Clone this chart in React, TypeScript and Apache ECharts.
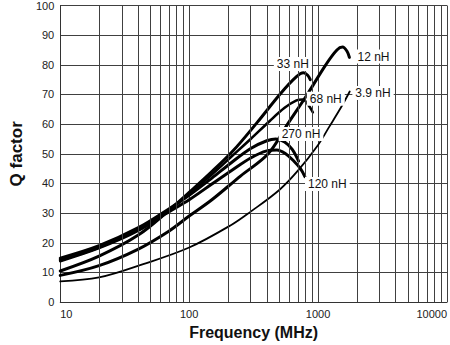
import { useEffect, useRef } from "react";
import * as echarts from "echarts";

type Pt = [number, number];

// Q factor vs frequency (MHz)
const q270: Pt[] = [[10, 14.8], [20, 19], [40, 25], [70, 31.5], [100, 36], [150, 41.8], [212, 47], [300, 51.8], [400, 54.4], [470, 55], [550, 54], [630, 51.5], [706, 47.5]];
const q120: Pt[] = [[10, 14.2], [20, 18.5], [40, 24.3], [70, 30.5], [100, 34.5], [150, 39.8], [212, 44.3], [300, 48.6], [400, 51], [480, 51.3], [560, 50], [650, 47.5], [730, 45], [790, 42.3]];
const q68: Pt[] = [[10, 13.8], [20, 18.2], [40, 24], [70, 31], [100, 36.5], [150, 43], [212, 49], [300, 55], [420, 61], [550, 65.5], [680, 68], [760, 68.3], [840, 66.5], [910, 64]];
const q33: Pt[] = [[10, 10.5], [20, 15.5], [40, 22.5], [70, 31], [100, 37], [150, 44], [219, 51], [336, 60.5], [516, 70.5], [680, 76], [770, 77.3], [830, 76.5], [870, 75]];
const q12: Pt[] = [[10, 9], [20, 12.3], [40, 17.8], [70, 24], [100, 29], [150, 34.5], [250, 42.5], [410, 50], [580, 60], [824, 70], [1147, 80], [1400, 85], [1550, 86], [1680, 84.5], [1750, 82.5]];
const q39: Pt[] = [[10, 7], [20, 8.3], [44, 12.8], [100, 18.4], [212, 26], [300, 30.5], [500, 37.8], [700, 44.4], [1000, 53], [1216, 59], [1500, 65.5], [1760, 71]];

const minorFreqs = [20, 30, 40, 50, 60, 70, 80, 90, 200, 300, 400, 500, 600, 700, 800, 900, 2000, 3000, 4000, 5000, 6000, 7000, 8000, 9000];

const curveNames = ["270 nH", "120 nH", "68 nH", "33 nH", "12 nH", "3.9 nH"];
const curveData = [q270, q120, q68, q33, q12, q39];
const curveWidths = [3, 3, 2.6, 3, 3, 1.8];

// label anchors [freq, Q]
const labelNames = ["12 nH", "33 nH", "68 nH", "3.9 nH", "270 nH", "120 nH"];
const labelFreq = [2692, 637, 1147, 2667, 737, 1180];
const labelQ = [82.8, 80.3, 68.6, 70.5, 56.7, 39.8];

const FONT = "'Liberation Sans', Arial, Helvetica, sans-serif";
const GRID = "#404040";

export default function App() {
  const ref = useRef<HTMLDivElement>(null);
  useEffect(() => {
    if (!ref.current) return;
    const chart = echarts.init(ref.current, null, { renderer: "svg" });
    const series: any[] = [];
    series.push({
      type: "line",
      data: [],
      silent: true,
      z: 1,
      markLine: {
        silent: true,
        symbol: "none",
        label: { show: false },
        lineStyle: { color: GRID, width: 1, type: "solid" },
        data: minorFreqs.map((f) => ({ xAxis: f })),
      },
    });
    curveData.forEach((d, i) => {
      series.push({
        type: "line",
        name: curveNames[i],
        data: d,
        showSymbol: false,
        smooth: 0.35,
        z: 3,
        lineStyle: { color: "#000", width: curveWidths[i], cap: "round" },
      });
    });
    series.push({
      type: "scatter",
      data: [],
      z: 5,
      markPoint: {
        symbol: "rect",
        symbolSize: 1,
        itemStyle: { color: "rgba(0,0,0,0)" },
        label: {
          show: true,
          position: "inside",
          fontFamily: FONT,
          fontSize: 12,
          color: "#111",
          backgroundColor: "#fff",
          padding: [1, 3],
          formatter: (p: any) => p.name,
        },
        data: labelNames.map((n, i) => ({ name: n, coord: [labelFreq[i], labelQ[i]] })),
      },
    });

    chart.setOption({
      animation: false,
      backgroundColor: "#fff",
      grid: { left: 47, right: 1, top: 3, bottom: 42 },
      xAxis: {
        type: "log",
        logBase: 10,
        min: 10,
        max: 10000,
        name: "Frequency (MHz)",
        nameLocation: "middle",
        nameGap: 12,
        nameTextStyle: { fontFamily: FONT, fontSize: 16, fontWeight: "bold", color: "#111" },
        axisLine: { show: true, lineStyle: { color: "#333", width: 1 } },
        axisTick: { show: false },
        axisLabel: {
          fontFamily: FONT,
          fontSize: 11,
          color: "#222",
          margin: 6,
          alignMinLabel: "left",
          alignMaxLabel: "right",
          formatter: (v: number) => String(Math.round(v)),
        },
        splitLine: { show: true, lineStyle: { color: GRID, width: 1 } },
        minorTick: { show: false },
      },
      yAxis: {
        type: "value",
        min: 0,
        max: 100,
        interval: 10,
        name: "Q factor",
        nameLocation: "middle",
        nameGap: 29,
        nameTextStyle: { fontFamily: FONT, fontSize: 17, fontWeight: "bold", color: "#111" },
        axisLine: { show: true, lineStyle: { color: "#333", width: 1 } },
        axisTick: { show: false },
        axisLabel: { fontFamily: FONT, fontSize: 11, color: "#222", margin: 6 },
        splitLine: { show: true, lineStyle: { color: GRID, width: 1 } },
      },
      series,
    });
    return () => chart.dispose();
  }, []);
  return <div ref={ref} style={{ width: 450, height: 345, position: "absolute", left: 0, top: 0 }} />;
}
